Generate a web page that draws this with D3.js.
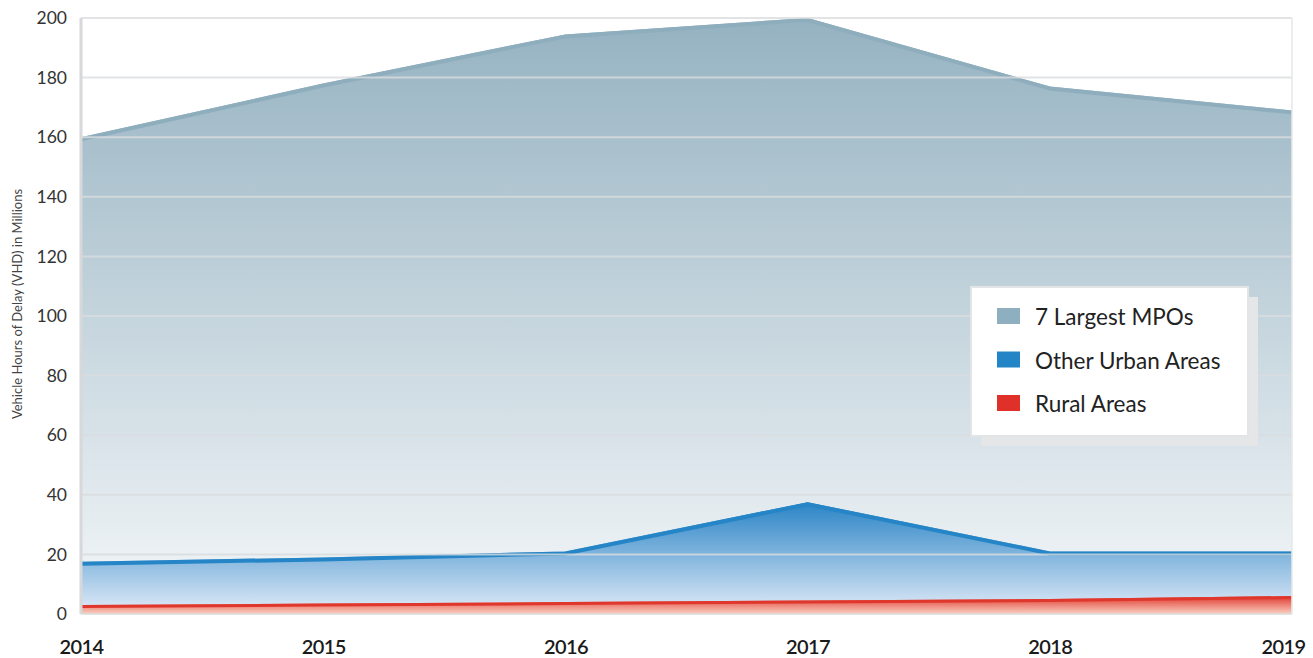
<!DOCTYPE html>
<html>
<head>
<meta charset="utf-8">
<script src="https://cdn.jsdelivr.net/npm/d3@7"></script>
<style>
  body { margin: 0; background: #fff; }
  text { font-family: Lato, "Open Sans", sans-serif; }
</style>
</head>
<body>
<div id="vis"></div>
<script>
// data
var years = [2014, 2015, 2016, 2017, 2018, 2019];
var largestMPOs = [160, 178, 194.5, 200, 177, 169];
var otherUrban = [17.5, 19, 21, 37.5, 21, 21];
var rural = [3, 3.5, 4, 4.5, 5, 6];
var yTicks = [0, 20, 40, 60, 80, 100, 120, 140, 160, 180, 200];
var legendNames = ["7 Largest MPOs", "Other Urban Areas", "Rural Areas"];

var outer_width = 1313;
var outer_height = 658;
var margin = {top: 18, right: 21, bottom: 44, left: 81};
var svg_width = outer_width - margin.left - margin.right;
var svg_height = outer_height - margin.top - margin.bottom;

var root = d3.select("#vis")
  .append("svg")
  .attr("width", outer_width)
  .attr("height", outer_height);

var defs = root.append("defs");

function addGradient(id, top, bottom){
  var g = defs.append("linearGradient")
    .attr("id", id)
    .attr("x1", 0).attr("y1", 0)
    .attr("x2", 0).attr("y2", 1);
  g.append("stop").attr("offset", "0%").attr("stop-color", top);
  g.append("stop").attr("offset", "100%").attr("stop-color", bottom);
}
addGradient("gradMPO", "#95b2c1", "#f4f7f9");
addGradient("gradUrban", "#2a84c6", "#e3ecf8");
addGradient("gradRural", "#e0392e", "#fad0c2");

var svg = root.append("g")
  .attr("transform", "translate(" + margin.left + "," + margin.top + ")");

var xScale = d3.scaleLinear()
  .domain([2014, 2019])
  .range([0, svg_width]);

var yScale = d3.scaleLinear()
  .domain([0, 200])
  .range([svg_height, 0]);

var series = [
  {name: legendNames[0], values: largestMPOs, fill: "url(#gradMPO)", stroke: "#8eadbd", sw: 4, key: "#8eafc0"},
  {name: legendNames[1], values: otherUrban, fill: "url(#gradUrban)", stroke: "#2585c6", sw: 4, key: "#2385c6"},
  {name: legendNames[2], values: rural, fill: "url(#gradRural)", stroke: "#e0372d", sw: 3, key: "#e0302a"}
];

var area = d3.area()
  .x(function(d, i){ return xScale(years[i]); })
  .y0(yScale(0))
  .y1(function(d){ return yScale(d); });

var line = d3.line()
  .x(function(d, i){ return xScale(years[i]); })
  .y(function(d){ return yScale(d); });

// areas
series.forEach(function(s){
  svg.append("path")
    .datum(s.values)
    .attr("d", area)
    .attr("fill", s.fill);
  svg.append("path")
    .datum(s.values)
    .attr("d", line)
    .attr("fill", "none")
    .attr("stroke", s.stroke)
    .attr("stroke-width", s.sw)
    .attr("transform", "translate(0," + (s.sw / 2) + ")");
});

// gridlines on top
svg.append("g")
  .selectAll("line")
  .data(yTicks)
  .enter()
  .append("line")
  .attr("x1", 0)
  .attr("x2", svg_width)
  .attr("y1", function(d){ return yScale(d); })
  .attr("y2", function(d){ return yScale(d); })
  .style("stroke", "rgba(218,220,222,0.8)")
  .style("stroke-width", 2);

// frame sides
svg.append("line")
  .attr("x1", 0).attr("x2", 0)
  .attr("y1", 0).attr("y2", svg_height)
  .style("stroke", "#d6d8da")
  .style("stroke-width", 3);
svg.append("line")
  .attr("x1", svg_width).attr("x2", svg_width)
  .attr("y1", yScale(200)).attr("y2", svg_height)
  .style("stroke", "rgba(230,232,234,0.8)")
  .style("stroke-width", 2);

// Y axis
var yAxis = svg.append("g")
  .call(d3.axisLeft(yScale).tickValues(yTicks).tickSize(0).tickPadding(14));
yAxis.select(".domain").remove();
yAxis.selectAll("text")
  .style("font-size", "17.5px")
  .style("fill", "#333")
  .style("font-family", "Lato, sans-serif");

// X axis
var xAxis = svg.append("g")
  .attr("transform", "translate(0," + svg_height + ")")
  .call(d3.axisBottom(xScale).tickValues(years).tickFormat(d3.format("d")).tickSize(0).tickPadding(26));
xAxis.select(".domain").remove();
xAxis.selectAll("text")
  .style("font-size", "20px")
  .style("font-weight", "600")
  .style("letter-spacing", "-0.6px")
  .style("fill", "#1a1a1a")
  .style("font-family", "Lato, sans-serif")
  .attr("dx", function(d){ return d == 2019 ? -9 : 0; });

// Y label
root.append("text")
  .attr("transform", "translate(22," + (margin.top + svg_height / 2 - 12) + ") rotate(-90)")
  .style("text-anchor", "middle")
  .style("font-size", "13px")
  .style("fill", "#444")
  .text("Vehicle Hours of Delay (VHD) in Millions");

// legend
var legend = root.append("g")
  .attr("transform", "translate(971,287)");
legend.append("rect")
  .attr("x", 10).attr("y", 10)
  .attr("width", 277).attr("height", 149)
  .style("fill", "#e4e6e8");
legend.append("rect")
  .attr("x", 0).attr("y", 0)
  .attr("width", 277).attr("height", 149)
  .style("fill", "#fff")
  .style("stroke", "#e2e4e6")
  .style("stroke-width", 2);

var items = legend.selectAll(".item")
  .data(series)
  .enter()
  .append("g")
  .attr("class", "item")
  .attr("transform", function(d, i){ return "translate(26," + (21 + i * 43.5) + ")"; });
items.append("rect")
  .attr("width", 23).attr("height", 16)
  .style("fill", function(d){ return d.key; });
items.append("text")
  .attr("x", 38).attr("y", 17)
  .style("font-size", "22.5px")
  .style("fill", "#222")
  .text(function(d){ return d.name; });
</script>
</body>
</html>
